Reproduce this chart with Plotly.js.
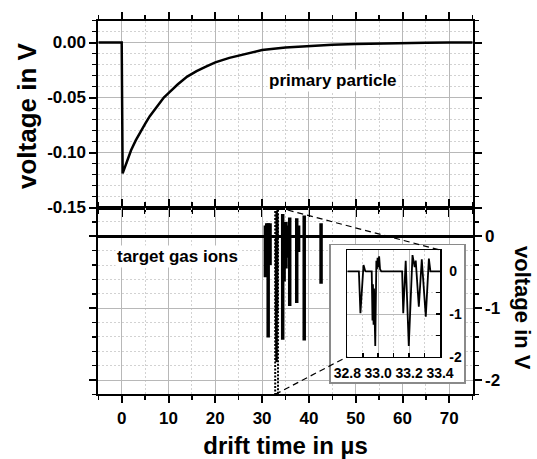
<!DOCTYPE html>
<html>
<head>
<meta charset="utf-8">
<script src="https://cdn.plot.ly/plotly-3.0.1.min.js"></script>
<style>html,body{margin:0;padding:0;background:#fff;}#chart{width:537px;height:459px;}</style>
</head>
<body>
<div id="chart"></div>
<script>
// ---- data ----
// primary particle signal (top panel)
const primaryTime = [-5, -2, 0, 0.2, 1, 2, 3, 4, 5, 6, 7, 8, 9, 10, 12, 14, 16, 18, 20, 23, 26, 30, 35, 40, 45, 50, 55, 60, 65, 70, 75];
const primaryVoltage = [0, 0, 0, -0.119, -0.109, -0.098, -0.089, -0.081, -0.074, -0.067, -0.061, -0.056, -0.050, -0.046, -0.038, -0.031, -0.026, -0.022, -0.018, -0.014, -0.011, -0.0068, -0.0045, -0.003, -0.002, -0.0013, -0.0008, -0.0005, -0.0003, -0.0001, 0];

// target gas ion pulses (bottom panel), each pulse: time, upper and lower excursion
const ionTime = [30.7, 31.0, 31.3, 31.7, 34.4, 34.7, 35.1, 35.5, 35.9, 37.4, 37.8, 39.0, 42.6];
const ionHigh = [0.15, 0.18, 0.18, 0.18, 0.31, 0.20, 0.20, 0.15, 0.26, 0.25, 0.15, 0.29, 0.18];
const ionLow  = [-0.57, -0.30, -1.41, -0.40, -1.44, -0.63, -0.45, -0.30, -0.97, -0.93, -0.22, -1.45, -0.66];

// zoomed detail 32.8 .. 33.4 us (inset)
const insetTime = [32.800, 32.875, 32.885, 32.900, 32.905, 32.915, 32.920, 32.958, 32.963, 32.966, 32.970, 32.973, 32.977, 32.981, 32.988, 32.992, 32.996, 33.000, 33.006, 33.012, 33.020, 33.155, 33.162, 33.178, 33.198, 33.222, 33.236, 33.243, 33.263, 33.282, 33.308, 33.328, 33.338, 33.400];
const insetVoltage = [0, 0, -0.98, 0.10, 0.15, 0.02, 0, 0, -1.15, -0.30, -1.25, -0.40, -1.30, -1.75, 0.25, 0.05, 0.32, 0.10, 0.35, 0.05, 0, 0, -0.98, 0.25, -1.75, 0.38, 0.10, 0.25, -0.83, 0.28, -1.06, 0.30, 0, 0];

// tick labels
const topYTicks = [0, -0.05, -0.10, -0.15];
const topYLabels = ['0.00', '-0.05', '-0.10', '-0.15'];
const botYTicks = [0, -1, -2];
const botYLabels = ['0', '-1', '-2'];
const xTicks = [0, 10, 20, 30, 40, 50, 60, 70];
const xLabels = ['0', '10', '20', '30', '40', '50', '60', '70'];
const insetXTicks = [32.8, 33.0, 33.2, 33.4];
const insetXLabels = ['32.8', '33.0', '33.2', '33.4'];
const insetYTicks = [0, -1, -2];
const insetYLabels = ['0', '-1', '-2'];

// ---- build traces ----
const bold = arr => arr.map(s => '<b>' + s + '</b>');
const spikeX = [], spikeY = [];
for (let i = 0; i < ionTime.length; i++) {
  spikeX.push(ionTime[i], ionTime[i], ionTime[i], ionTime[i], null);
  spikeY.push(0, ionHigh[i], ionLow[i], 0, null);
}

const FONT = 'Liberation Sans, Arial, sans-serif';
const GRID = '#b8b8b8';
const MINORGRID = '#d2d2d2';

const traces = [
  {x: primaryTime, y: primaryVoltage, xaxis: 'x', yaxis: 'y', mode: 'lines', line: {color: '#000', width: 2.5}, hoverinfo: 'skip'},
  {x: spikeX, y: spikeY, xaxis: 'x2', yaxis: 'y2', mode: 'lines', line: {color: '#000', width: 3.5}, connectgaps: false, hoverinfo: 'skip'},
  {x: insetTime, y: insetVoltage, xaxis: 'x2', yaxis: 'y2', mode: 'lines', line: {color: '#000', width: 1.5}, hoverinfo: 'skip'},
  {x: [0], y: [0], xaxis: 'x3', yaxis: 'y3', mode: 'markers', marker: {opacity: 0}, hoverinfo: 'skip'},
  {x: insetTime, y: insetVoltage, xaxis: 'x4', yaxis: 'y4', mode: 'lines', line: {color: '#000', width: 1.8}, hoverinfo: 'skip'}
];

const W = 537, H = 459;
const px = v => v / W, py = v => 1 - v / H;

const xDom = [px(98.3), px(472.7)];
const topDom = [py(207.5), py(20.5)];
const botDom = [py(394.4), py(207.5)];
const xRange = [-5, 75];
const topRange = [-0.15, 0.02];
const botRange = [-2.2, 0.4];
const insetXDom = [px(347.3), px(440)];
const insetYDom = [py(356.7), py(250)];
const insetXRange = [32.8, 33.4];
const insetYRange = [-2, 0.5];

const tickFont = {family: FONT, size: 17, color: '#000', weight: 'bold'};

const baseX = {
  range: xRange, domain: xDom, showline: true, linecolor: '#000', linewidth: 2, mirror: 'ticks',
  ticks: 'outside', ticklen: 7, tickwidth: 2, tickcolor: '#000', tickvals: xTicks, ticktext: bold(xLabels),
  showgrid: true, gridcolor: GRID, gridwidth: 1, zeroline: false,
  minor: {dtick: 5, tick0: 0, ticks: 'outside', ticklen: 4, tickwidth: 1.5, tickcolor: '#000', showgrid: true, gridcolor: MINORGRID, griddash: '2px,2px', gridwidth: 1},
  tickfont: tickFont, fixedrange: true
};

function toPaper(dom, rng, v) { return dom[0] + (v - rng[0]) / (rng[1] - rng[0]) * (dom[1] - dom[0]); }

const layout = {
  width: W, height: H, margin: {l: 0, r: 0, t: 0, b: 0},
  paper_bgcolor: '#fff', plot_bgcolor: '#fff', showlegend: false,
  font: {family: FONT, color: '#000'},
  xaxis: Object.assign({}, baseX, {anchor: 'y', showticklabels: false}),
  yaxis: {
    anchor: 'x', domain: topDom, range: topRange, showline: true, linecolor: '#000', linewidth: 2, mirror: 'ticks',
    ticks: 'outside', ticklen: 7, tickwidth: 2, tickcolor: '#000', tickvals: topYTicks, ticktext: bold(topYLabels),
    showgrid: true, gridcolor: GRID, zeroline: false, tickfont: tickFont,
    minor: {dtick: 0.01, tick0: 0, ticks: 'outside', ticklen: 4, tickwidth: 1.5, tickcolor: '#000', showgrid: true, gridcolor: MINORGRID, griddash: '2px,2px'},
    automargin: false, fixedrange: true
  },
  xaxis2: Object.assign({}, baseX, {anchor: 'y2', showticklabels: true,
    title: {text: '<b>drift time in µs</b>', font: {family: FONT, size: 24, weight: 'bold', color: '#000'}, standoff: 11}, automargin: false}),
  yaxis2: {
    anchor: 'x2', domain: botDom, range: botRange, side: 'right', showline: true, linecolor: '#000', linewidth: 2, mirror: 'ticks',
    ticks: 'outside', ticklen: 7, tickwidth: 2, tickcolor: '#000', tickvals: botYTicks, ticktext: bold(botYLabels),
    showgrid: true, gridcolor: GRID, zeroline: true, zerolinecolor: '#000', zerolinewidth: 2.5, tickfont: tickFont,
    minor: {dtick: 0.2, tick0: 0, ticks: 'outside', ticklen: 4, tickwidth: 1.5, tickcolor: '#000', showgrid: true, gridcolor: MINORGRID, griddash: '2px,2px'},
    automargin: false, fixedrange: true
  },
  // white frame behind the inset
  xaxis3: {anchor: 'y3', domain: [px(330.7), px(464)], range: [0, 1], showline: true, linecolor: '#8a8a8a', linewidth: 1.5, mirror: true,
    showgrid: false, zeroline: false, showticklabels: false, ticks: '', fixedrange: true},
  yaxis3: {anchor: 'x3', domain: [py(382), py(245)], range: [0, 1], showline: true, linecolor: '#8a8a8a', linewidth: 1.5, mirror: true,
    showgrid: false, zeroline: false, showticklabels: false, ticks: '', fixedrange: true},
  // inset
  xaxis4: {anchor: 'y4', domain: insetXDom, range: insetXRange, showline: true, linecolor: '#000', linewidth: 1.5, mirror: true,
    ticks: 'inside', ticklen: 4, tickwidth: 1.5, tickcolor: '#000', tickvals: insetXTicks, ticktext: bold(insetXLabels),
    showgrid: true, gridcolor: GRID, zeroline: false, ticklabelstandoff: 3,
    tickfont: {family: FONT, size: 14, color: '#000', weight: 'bold'},
    minor: {dtick: 0.1, tick0: 32.8, ticks: 'inside', ticklen: 4, tickwidth: 1.5, tickcolor: '#000', showgrid: true, gridcolor: MINORGRID, griddash: '2px,2px'},
    fixedrange: true},
  yaxis4: {anchor: 'x4', domain: insetYDom, range: insetYRange, side: 'right', showline: true, linecolor: '#000', linewidth: 1.5, mirror: true,
    ticks: 'inside', ticklen: 4, tickwidth: 1.5, tickcolor: '#000', tickvals: insetYTicks, ticktext: bold(insetYLabels),
    showgrid: true, gridcolor: GRID, zeroline: false, ticklabelstandoff: 5,
    tickfont: {family: FONT, size: 14, color: '#000', weight: 'bold'},
    minor: {dtick: 0.5, tick0: 0, ticks: 'inside', ticklen: 4, tickwidth: 1.5, tickcolor: '#000', showgrid: true, gridcolor: MINORGRID, griddash: '2px,2px'},
    fixedrange: true},
  shapes: [
    {type: 'rect', xref: 'x2', yref: 'y2', x0: insetXRange[0], x1: insetXRange[1], y0: botRange[0], y1: botRange[1],
     line: {color: '#000', width: 2, dash: '2px,1.5px'}, layer: 'above'},
    {type: 'line', xref: 'paper', yref: 'paper',
     x0: toPaper(xDom, xRange, insetXRange[1]), y0: toPaper(botDom, botRange, botRange[1]),
     x1: insetXDom[1], y1: insetYDom[1], line: {color: '#000', width: 1.2, dash: '6px,4px'}, layer: 'above'},
    {type: 'line', xref: 'paper', yref: 'paper',
     x0: toPaper(xDom, xRange, insetXRange[0]), y0: toPaper(botDom, botRange, botRange[0]),
     x1: insetXDom[0], y1: insetYDom[0], line: {color: '#000', width: 1.2, dash: '6px,4px'}, layer: 'above'}
  ],
  annotations: [
    {text: '<b>voltage in V</b>', xref: 'paper', yref: 'paper', x: px(27), y: py(116), showarrow: false, textangle: -90,
     font: {family: FONT, size: 26, weight: 'bold', color: '#000'}, xanchor: 'center', yanchor: 'middle'},
    {text: '<b>primary particle</b>', xref: 'paper', yref: 'paper', x: px(333), y: py(80), showarrow: false,
     bgcolor: '#fff', font: {family: FONT, size: 17, weight: 'bold', color: '#000'}, xanchor: 'center', yanchor: 'middle'},
    {text: '<b>target gas ions</b>', xref: 'paper', yref: 'paper', x: px(177), y: py(256), showarrow: false,
     bgcolor: '#fff', font: {family: FONT, size: 17, weight: 'bold', color: '#000'}, xanchor: 'center', yanchor: 'middle'},
    {text: '<b>voltage in V</b>', xref: 'paper', yref: 'paper', x: px(523), y: py(308), showarrow: false, textangle: 90,
     font: {family: FONT, size: 22, weight: 'bold', color: '#000'}, xanchor: 'center', yanchor: 'middle'}
  ]
};

Plotly.newPlot('chart', traces, layout, {staticPlot: true, displayModeBar: false});
</script>
</body>
</html>
